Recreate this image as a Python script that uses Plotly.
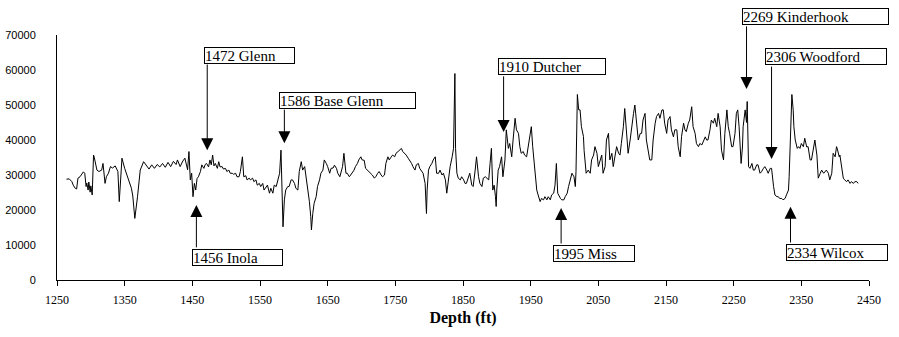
import plotly.graph_objects as go

# Well log trace: depth (ft) and log reading
depth_ft = [
    1264, 1268, 1272, 1274, 1277, 1279, 1281, 1284, 1289, 1291,
    1293, 1294, 1296, 1297, 1299, 1300, 1302, 1304, 1305, 1309,
    1312, 1316, 1318, 1321, 1323, 1326, 1329, 1332, 1336, 1340,
    1342, 1346, 1350, 1355, 1360, 1362, 1365, 1369, 1373, 1378,
    1382, 1386, 1390, 1394, 1398, 1402, 1406, 1410, 1414, 1418,
    1422, 1426, 1428, 1432, 1436, 1439, 1443, 1445, 1447, 1449,
    1451, 1453, 1455, 1457, 1459, 1462, 1464, 1467, 1469, 1471,
    1474, 1476, 1478, 1480, 1482, 1484, 1487, 1489, 1491, 1494,
    1496, 1499, 1501, 1504, 1506, 1509, 1511, 1514, 1516, 1519,
    1521, 1524, 1526, 1529, 1531, 1534, 1536, 1539, 1541, 1544,
    1546, 1549, 1551, 1554, 1556, 1559, 1561, 1564, 1566, 1569,
    1571, 1574, 1576, 1579, 1581, 1583, 1584, 1586, 1588, 1591,
    1593, 1596, 1598, 1601, 1603, 1606, 1608, 1611, 1613, 1616,
    1618, 1621, 1623, 1625, 1626, 1628, 1630, 1633, 1635, 1638,
    1640, 1643, 1645, 1648, 1650, 1653, 1655, 1658, 1660, 1663,
    1665, 1668, 1670, 1672, 1674, 1677, 1679, 1682, 1684, 1687,
    1689, 1691, 1694, 1696, 1699, 1701, 1704, 1706, 1709, 1711,
    1714, 1716, 1719, 1721, 1724, 1726, 1729, 1731, 1734, 1736,
    1739, 1741, 1744, 1746, 1749, 1751, 1754, 1756, 1759, 1761,
    1764, 1766, 1769, 1771, 1774, 1776, 1779, 1781, 1784, 1786,
    1789, 1791, 1794, 1795, 1796, 1797, 1799, 1801, 1804, 1806,
    1809, 1811, 1814, 1816, 1819, 1821, 1824, 1826, 1829, 1831,
    1834, 1836, 1838, 1839, 1841, 1843, 1846, 1848, 1851, 1853,
    1855, 1858, 1860, 1863, 1865, 1868, 1870, 1873, 1875, 1878,
    1880, 1883, 1885, 1888, 1890, 1892, 1894, 1896, 1898, 1899,
    1900, 1902, 1904, 1907, 1909, 1912, 1914, 1917, 1919, 1922,
    1924, 1927, 1929, 1932, 1934, 1936, 1939, 1941, 1944, 1946,
    1949, 1951, 1953, 1955, 1957, 1959, 1961, 1964, 1966, 1969,
    1971, 1974, 1976, 1979, 1981, 1984, 1986, 1988, 1990, 1992,
    1994, 1996, 1999, 2001, 2004, 2006, 2009, 2011, 2014, 2016,
    2017, 2018, 2019, 2021, 2023, 2025, 2028, 2029, 2032, 2035,
    2038, 2040, 2043, 2045, 2048, 2050, 2053, 2055, 2057, 2060,
    2062, 2065, 2067, 2070, 2072, 2075, 2077, 2080, 2082, 2084,
    2087, 2089, 2092, 2094, 2097, 2099, 2102, 2104, 2107, 2109,
    2112, 2114, 2116, 2119, 2121, 2124, 2126, 2129, 2131, 2134,
    2136, 2139, 2141, 2144, 2146, 2148, 2151, 2153, 2156, 2158,
    2161, 2163, 2166, 2168, 2171, 2173, 2176, 2178, 2180, 2183,
    2185, 2188, 2190, 2193, 2195, 2198, 2200, 2203, 2205, 2208,
    2210, 2212, 2215, 2217, 2220, 2222, 2225, 2227, 2230, 2232,
    2235, 2237, 2240, 2242, 2244, 2247, 2249, 2252, 2254, 2256,
    2258, 2261, 2263, 2264, 2267, 2269, 2270, 2272, 2274, 2277,
    2279, 2281, 2284, 2286, 2289, 2291, 2294, 2296, 2299, 2301,
    2304, 2306, 2309, 2311, 2314, 2316, 2318, 2321, 2323, 2326,
    2328, 2331, 2332, 2333, 2334, 2336, 2338, 2339, 2341, 2342,
    2344, 2346, 2348, 2350, 2353, 2355, 2358, 2360, 2363, 2365,
    2368, 2370, 2373, 2375, 2378, 2380, 2383, 2385, 2387, 2390,
    2392, 2395, 2397, 2400, 2402, 2403, 2406, 2407, 2410, 2412,
    2414, 2417, 2419, 2422, 2424, 2427, 2429, 2432, 2434,
]

log_values = [
    28800, 28900, 28100, 27100, 26200, 26000, 29100, 29500, 30900, 30500,
    26700, 27700, 25700, 28000, 25100, 26900, 24300, 35700, 35100, 31400,
    31000, 31400, 33300, 27600, 29500, 30500, 32400, 32000, 32600, 31000,
    22400, 34800, 31900, 29100, 26200, 24000, 17600, 23800, 31400, 33800,
    32600, 31700, 32900, 31900, 33000, 32300, 33300, 32200, 33600, 32400,
    33900, 33000, 34300, 32400, 34000, 34800, 31500, 36700, 28600, 30500,
    23800, 27600, 25700, 29000, 29500, 31000, 32900, 31900, 33000, 33300,
    32300, 34300, 32900, 35700, 32600, 33300, 31900, 33800, 32300, 32400,
    31700, 31900, 31000, 31400, 30500, 30500, 30200, 30500, 29500, 29500,
    31000, 35200, 29500, 29800, 28600, 29100, 28600, 29100, 28100, 28600,
    27100, 27600, 26700, 27600, 25700, 26700, 27100, 24800, 26200, 24800,
    27100, 26700, 28600, 30500, 37100, 19000, 15200, 22900, 25700, 26700,
    26700, 28600, 28600, 27600, 26200, 25700, 31000, 33800, 31400, 32400,
    29500, 25700, 22400, 18100, 14300, 19000, 21900, 23800, 26700, 28600,
    30500, 31400, 34300, 33300, 32400, 30500, 31900, 32000, 32800, 31900,
    30500, 29500, 30900, 32400, 36200, 30500, 30500, 29500, 30000, 30900,
    31400, 32400, 33300, 34300, 35200, 34300, 34200, 31900, 31400, 31000,
    30500, 30000, 29100, 29500, 30500, 31000, 30000, 29500, 30000, 33300,
    35200, 34300, 35200, 35700, 35200, 36200, 36700, 37100, 37600, 36700,
    36200, 35700, 34800, 34300, 33300, 32400, 31400, 32900, 33300, 31900,
    31000, 30500, 27600, 22900, 19000, 25700, 31400, 32400, 33300, 34300,
    35200, 30500, 30500, 31400, 30000, 30500, 28600, 24800, 29500, 32400,
    35200, 37600, 59000, 37600, 30500, 29100, 28600, 29500, 28600, 27600,
    27600, 29100, 30500, 27100, 26700, 31400, 35200, 29500, 27600, 26700,
    29100, 29500, 29100, 28600, 33300, 37600, 25700, 27100, 23800, 21000,
    26000, 31400, 32400, 35200, 29500, 34300, 42900, 37600, 39000, 35200,
    40000, 46200, 42900, 41900, 38100, 36200, 36700, 35700, 35200, 37600,
    41900, 43800, 38100, 34300, 28600, 25700, 24300, 22400, 23300, 22900,
    23800, 22900, 23800, 22900, 24300, 24800, 27100, 33300, 24800, 23800,
    23300, 22900, 22900, 23800, 24800, 26700, 28600, 30500, 29500, 26700,
    31000, 45000, 53000, 48600, 48600, 43800, 41000, 37000, 30500, 31400,
    30500, 34300, 35700, 38100, 36200, 32400, 34300, 35700, 30500, 32400,
    40000, 41900, 34300, 36200, 32400, 36700, 38100, 36200, 35700, 39000,
    43800, 49000, 41000, 36200, 40000, 43800, 47600, 50000, 43800, 40000,
    41900, 41900, 45700, 47600, 40000, 35700, 34300, 34300, 40000, 44800,
    46700, 47600, 46200, 48600, 48600, 44800, 41900, 45700, 46700, 42900,
    40900, 42900, 42900, 38100, 35200, 41000, 44800, 42900, 42400, 44800,
    45700, 49500, 43800, 41900, 39000, 38100, 39000, 38600, 39500, 40900,
    40000, 40000, 42900, 45700, 44800, 46200, 43800, 47600, 43800, 37100,
    34300, 41900, 48600, 43800, 41900, 38100, 38100, 41900, 47600, 48600,
    43800, 33300, 38000, 43800, 48600, 45000, 51000, 32400, 31900, 33300,
    31400, 31400, 32900, 32900, 30500, 30900, 31900, 32400, 31400, 30500,
    31900, 31900, 26700, 24300, 23800, 23800, 23300, 23300, 22900, 23300,
    24300, 25700, 29500, 35000, 43800, 53000, 48500, 43800, 40000, 39000,
    37600, 38100, 37600, 39000, 38100, 40500, 38000, 38100, 34300, 34300,
    38100, 40000, 35700, 29100, 30500, 31400, 30500, 31000, 31400, 30500,
    28600, 30500, 36200, 35200, 38100, 37600, 35200, 35700, 31000, 29100,
    28600, 28100, 28600, 27600, 28100, 27600, 28100, 28100, 27600,
]

# Formation tops (depth in ft) and their labels
top_labels = ["1456 Inola", "1472 Glenn", "1586 Base Glenn", "1910 Dutcher",
              "1995 Miss", "2269 Kinderhook", "2306 Woodford", "2334 Wilcox"]
top_depths = [1456, 1472, 1586, 1910, 1995, 2269, 2306, 2334]

# Callout placement for each top: label box top, arrow tail, arrow tip (axis units),
# box width (px) and how far the box starts left of the arrow (px)
box_top = [8900, 66600, 53700, 63400, 10000, 77700, 66300, 10300]
arrow_tail = [8900, 62000, 49100, 58600, 10000, 72900, 61400, 10300]
arrow_tip = [21400, 37100, 39100, 42300, 20600, 54600, 34600, 20900]
box_width_px = [91, 91, 137, 108, 82, 147, 122, 102]
box_offset_px = [4, 3, 5, 6, 8, 5, 7, 5]

Y_MAX = 70000

assert len(depth_ft) == len(log_values)

fig = go.Figure()
fig.add_trace(go.Scatter(
    x=depth_ft, y=log_values, mode="lines",
    line=dict(color="black", width=1),
    showlegend=False, hoverinfo="x+y",
))

for label, d, bt, at, tip, w, off in zip(top_labels, top_depths, box_top,
                                        arrow_tail, arrow_tip, box_width_px,
                                        box_offset_px):
    # arrow pointing at the top
    fig.add_annotation(
        x=d, y=tip, ax=d, ay=at, xref="x", yref="y", axref="x", ayref="y",
        text="", showarrow=True, arrowhead=2, arrowsize=2.4, arrowwidth=1,
        arrowcolor="black", standoff=0, startstandoff=0,
    )
    # boxed label (vertical position as a fraction of the y range so that
    # boxes above the plot area are still drawn)
    fig.add_annotation(
        x=d, y=bt / Y_MAX, xref="x", yref="paper",
        xanchor="left", yanchor="top",
        xshift=-off, text=label, showarrow=False, align="left",
        width=w - 2, height=15, bgcolor="white", bordercolor="black",
        borderwidth=1, borderpad=0,
        font=dict(family="Liberation Serif, Times New Roman, serif",
                  size=15, color="black"),
    )

fig.update_layout(
    width=899, height=337,
    margin=dict(l=57, r=30, t=35, b=57),
    paper_bgcolor="white", plot_bgcolor="white",
    xaxis=dict(
        range=[1250, 2450], tick0=1250, dtick=100,
        automargin=False,
        showgrid=False, zeroline=False,
        showline=True, linecolor="black", linewidth=1,
        ticks="outside", ticklen=5, tickcolor="black", tickwidth=1,
        ticklabelstandoff=4,
        tickfont=dict(family="Liberation Serif, Times New Roman, serif",
                      size=12, color="black"),
        title=dict(text="<b>Depth (ft)</b>", standoff=5,
                   font=dict(family="Liberation Serif, Times New Roman, serif",
                             size=16, color="black")),
    ),
    yaxis=dict(
        range=[0, Y_MAX], tick0=0, dtick=10000, tickformat="d",
        automargin=False,
        showgrid=False, zeroline=False,
        showline=True, linecolor="black", linewidth=1,
        ticks="", ticklabelstandoff=18,
        tickfont=dict(family="Liberation Sans Narrow, Liberation Sans, Arial, sans-serif",
                      size=11, color="black"),
    ),
)

fig.write_html("out.html")
